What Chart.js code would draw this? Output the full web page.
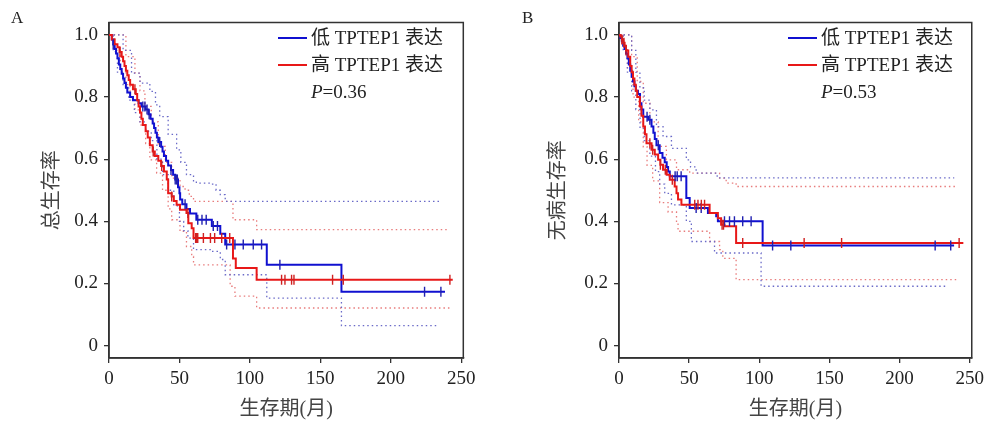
<!DOCTYPE html>
<html><head><meta charset="utf-8">
<script src="https://cdn.jsdelivr.net/npm/chart.js@4.4.0/dist/chart.umd.min.js"></script>
<style>
body{margin:0;background:#fff;width:989px;height:423px;overflow:hidden;position:relative;font-family:"Liberation Serif","Noto Sans CJK SC",serif;}
.wrap{position:absolute;top:0;height:423px;}
#wa{left:0;width:490px}
#wb{left:510px;width:479px}
.lbl{position:absolute;font-size:17px;color:#222;line-height:20px}
.leg{position:absolute;font-size:19px;color:#222;white-space:nowrap;line-height:20px}
.sw{position:absolute;height:2px;width:29px}
</style></head>
<body>
<div class="wrap" id="wa"><canvas id="ca"></canvas></div>
<div class="wrap" id="wb"><canvas id="cb"></canvas></div>
<div class="lbl" style="left:11px;top:8px">A</div>
<div class="lbl" style="left:522px;top:8px">B</div>

<div class="sw" style="left:278px;top:37px;background:#1010d0"></div>
<div class="leg" style="left:311px;top:28px">低 TPTEP1 表达</div>
<div class="sw" style="left:278px;top:64px;background:#e81818"></div>
<div class="leg" style="left:311px;top:55px">高 TPTEP1 表达</div>
<div class="leg" style="left:311px;top:82px"><i>P</i>=0.36</div>

<div class="sw" style="left:788px;top:37px;background:#1010d0"></div>
<div class="leg" style="left:821px;top:28px">低 TPTEP1 表达</div>
<div class="sw" style="left:788px;top:64px;background:#e81818"></div>
<div class="leg" style="left:821px;top:55px">高 TPTEP1 表达</div>
<div class="leg" style="left:821px;top:82px"><i>P</i>=0.53</div>

<script>
// ---------- axis ticks ----------
const xTicks = [0, 50, 100, 150, 200, 250];
const yTicks = [0, 0.2, 0.4, 0.6, 0.8, 1.0];
const yTickLabels = ['0', '0.2', '0.4', '0.6', '0.8', '1.0'];

// ---------- Panel A: overall survival ----------
const aLow = [[0,1],[2,0.985],[3,0.97],[4,0.955],[5,0.94],[6,0.925],[7,0.905],[8,0.89],[9,0.875],[10,0.86],[11,0.845],[12,0.83],[13,0.815],[15,0.8],[17,0.79],[21,0.78],[23,0.77],[26,0.76],[28,0.745],[29.5,0.73],[31,0.715],[32,0.7],[33,0.685],[34,0.67],[35,0.655],[37,0.64],[38,0.625],[39,0.61],[40.5,0.595],[42,0.58],[44,0.565],[45.5,0.55],[47,0.535],[49,0.51],[50,0.49],[50.5,0.47],[52,0.455],[55,0.44],[57.5,0.425],[62,0.405],[73,0.385],[79,0.36],[82.5,0.325],[112,0.26],[165,0.173],[238.5,0.173]];
const aHigh = [[0,1],[2,0.985],[4,0.97],[6,0.96],[7.5,0.945],[9,0.93],[10,0.915],[11,0.9],[12,0.885],[13,0.87],[14,0.855],[15,0.84],[17,0.825],[19,0.81],[20,0.79],[21,0.77],[22,0.75],[23,0.73],[24,0.71],[26,0.69],[27.5,0.67],[29,0.645],[31,0.625],[32.5,0.61],[35,0.595],[37,0.578],[39,0.56],[41,0.535],[42,0.49],[44.5,0.48],[46,0.465],[48,0.453],[50.4,0.437],[55,0.427],[56.3,0.394],[58.7,0.378],[60,0.346],[88,0.28],[90,0.25],[104.8,0.212],[244,0.212]];
const aLowCensor = [3,24,25.5,27,28.5,36,44,47,48,48.5,54,63,66,69,74,77,83.5,89.4,95.3,102.4,108.3,121.3,224,235.6];
const aHighCensor = [7.8,18.4,31.4,37.4,44.5,56,61.5,62,62.5,63,67,72,75,80,85.7,122.5,124.9,129.6,131.3,158.7,166.3,242];
const aLowUpper = [[0,1],[5,1],[10,0.95],[16,0.877],[22,0.845],[29,0.818],[33,0.775],[36,0.737],[42,0.68],[48,0.63],[51,0.59],[55,0.55],[60,0.528],[62,0.523],[73,0.52],[76,0.5],[79,0.486],[82.5,0.464],[235,0.464]];
const aLowLower = [[0,1],[3,0.946],[6,0.88],[10,0.834],[14,0.79],[18,0.75],[22,0.72],[26,0.69],[30,0.66],[34,0.6],[38,0.55],[42,0.5],[46,0.45],[50,0.4],[53,0.37],[56,0.346],[60,0.309],[73,0.303],[79,0.277],[82.5,0.228],[112,0.153],[165,0.064],[232.5,0.064]];
const aHighUpper = [[0,1],[7,1],[12,0.93],[18.4,0.877],[22,0.82],[25.5,0.77],[30,0.72],[35,0.641],[40,0.59],[44.5,0.539],[50.4,0.512],[54,0.5],[57,0.48],[60,0.464],[88,0.405],[104.8,0.373],[240.7,0.373]];
const aHighLower = [[0,1],[4,0.95],[8,0.88],[12,0.84],[15,0.8],[18.4,0.759],[22,0.71],[26,0.65],[29,0.598],[33.8,0.555],[38,0.5],[42,0.44],[44.5,0.405],[50.4,0.368],[55,0.319],[58.7,0.287],[60,0.26],[86,0.191],[89.4,0.159],[104.8,0.121],[242,0.121]];

// ---------- Panel B: disease-free survival ----------
const bLow = [[0,1],[1,0.99],[2,0.98],[3,0.965],[4,0.955],[5,0.94],[6,0.925],[7,0.905],[8,0.885],[9,0.865],[10,0.85],[11,0.835],[12,0.82],[13.5,0.81],[15,0.78],[16,0.76],[17.3,0.737],[20.8,0.727],[23.2,0.705],[24.5,0.685],[25.5,0.665],[26.7,0.645],[29,0.62],[31,0.605],[32.6,0.59],[34,0.575],[35,0.56],[36.2,0.545],[48,0.475],[50.4,0.443],[63.4,0.427],[69.3,0.416],[70.5,0.4],[102.4,0.322],[238.9,0.322]];
const bHigh = [[0,1],[1,0.995],[2,0.985],[3,0.975],[4,0.965],[5,0.95],[6.6,0.93],[8,0.9],[9,0.88],[10,0.86],[11,0.84],[12,0.82],[13,0.8],[14.9,0.77],[16,0.74],[17.3,0.705],[18.5,0.68],[19.6,0.651],[23.2,0.63],[25.5,0.615],[27.9,0.598],[29.5,0.582],[31.4,0.566],[34,0.55],[36.2,0.534],[39.7,0.512],[41,0.49],[42.1,0.47],[44.5,0.453],[64.6,0.427],[70.5,0.41],[72.8,0.389],[75.2,0.384],[83.5,0.33],[245.5,0.33]];
const bLowCensor = [20,22,28,40,41.5,44.3,55,58.6,75.2,78.8,82.3,88.2,94.2,109.5,122.5,225.4,236.5];
const bHighCensor = [2,3.5,5,22,24,29.5,33,38,54,56.3,58.7,61,73.5,74.5,88.2,132,158.7,242.5];
const bLowUpper = [[0,1],[6,1],[9,0.95],[12,0.88],[14.9,0.83],[18,0.79],[22,0.759],[26.7,0.705],[31.4,0.673],[37.4,0.635],[48,0.598],[51,0.575],[55,0.555],[70,0.54],[239,0.54]];
const bLowLower = [[0,1],[3,0.95],[6,0.88],[9,0.82],[12,0.76],[15,0.7],[18,0.66],[22,0.61],[26,0.56],[29,0.52],[32.6,0.49],[37.4,0.453],[48,0.4],[51.6,0.335],[68.1,0.298],[101.3,0.191],[233.5,0.191]];
const bHighUpper = [[0,1],[5,1],[9,0.93],[13,0.85],[17.3,0.78],[22,0.72],[27.9,0.641],[33.8,0.598],[41,0.566],[50.4,0.555],[71.7,0.539],[76.4,0.523],[83.5,0.512],[239.5,0.512]];
const bHighLower = [[0,1],[3,0.96],[6,0.89],[10,0.8],[14,0.72],[17.3,0.64],[20,0.58],[24,0.53],[29,0.46],[35,0.43],[41,0.394],[42.1,0.368],[64.6,0.335],[71.7,0.309],[74,0.281],[83.5,0.212],[242,0.212]];

// ---------- styling ----------
const BLUE = '#1010d0', RED = '#e81818';
const BLUE_CI = '#6a6ac8', RED_CI = '#e87c7c';
const BLUE_MK = '#2020b0', RED_MK = '#d02020';

function pts(arr){ return arr.map(([x,y]) => ({x, y})); }
function stepAt(curve, t){ let y = curve[0][1]; for (const [x,v] of curve){ if (x <= t) y = v; else break; } return y; }
function censorPts(curve, times){ return times.map(t => ({x: t, y: stepAt(curve, t)})); }

function curveDs(arr, color, order){ return {data: pts(arr), borderColor: color, borderWidth: 2, stepped: true, pointRadius: 0, fill: false, order}; }
function ciDs(arr, color){ return {data: pts(arr), borderColor: color, borderWidth: 1.3, borderDash: [1.5, 3], stepped: true, pointRadius: 0, fill: false, order: 10}; }
function censorDs(curve, times, color, order){ return {data: censorPts(curve, times), showLine: false, pointStyle: 'line', rotation: 90, pointRadius: 5, pointBorderWidth: 1.4, pointBorderColor: color, pointBackgroundColor: color, borderColor: color, order}; }

const framePlugin = { id: 'frame', beforeDatasetsDraw(c){ const {ctx, chartArea: a} = c; ctx.save(); ctx.strokeStyle = '#333'; ctx.lineWidth = 1.5; ctx.strokeRect(a.left, a.top, a.right - a.left, a.bottom - a.top); ctx.restore(); } };

function makeChart(id, low, high, lowC, highC, lowU, lowL, highU, highL, padRight, yTitle, yTitlePad){
  return new Chart(document.getElementById(id), {
    type: 'line',
    data: { datasets: [
      ciDs(lowU, BLUE_CI), ciDs(lowL, BLUE_CI), ciDs(highU, RED_CI), ciDs(highL, RED_CI),
      curveDs(low, BLUE, 4), curveDs(high, RED, 3),
      censorDs(low, lowC, BLUE_MK, 2), censorDs(high, highC, RED_MK, 1)
    ]},
    options: {
      responsive: true, maintainAspectRatio: false, animation: false,
      layout: { padding: { top: 22.5, right: padRight, left: 0, bottom: 0 } },
      plugins: { legend: { display: false }, tooltip: { enabled: false } },
      scales: {
        x: {
          type: 'linear', min: 0, max: 251.5,
          afterBuildTicks: s => { s.ticks = xTicks.map(v => ({value: v})); },
          afterFit: s => { s.height = 65; },
          ticks: { color: '#222', font: { family: 'Liberation Serif', size: 19 }, padding: 5, maxRotation: 0, autoSkip: false },
          grid: { drawOnChartArea: false, drawTicks: true, tickLength: 5, color: '#333', lineWidth: 1.3 },
          border: { display: true, color: '#333', width: 1.5 },
          title: { display: true, text: '生存期(月)', color: '#444', font: { family: 'Liberation Serif, "Noto Sans CJK SC"', size: 20 }, padding: { top: 0, bottom: 1 } }
        },
        y: {
          type: 'linear', min: -0.04, max: 1.04,
          afterBuildTicks: s => { s.ticks = yTicks.map(v => ({value: v})); },
          afterFit: s => { s.width = 109; },
          ticks: { color: '#222', font: { family: 'Liberation Serif', size: 19 }, padding: 6,
                   callback: (v) => { const i = yTicks.findIndex(t => Math.abs(t - v) < 1e-6); return i >= 0 ? yTickLabels[i] : ''; } },
          grid: { drawOnChartArea: false, drawTicks: true, tickLength: 5, color: '#333', lineWidth: 1.3 },
          border: { display: true, color: '#333', width: 1.5 },
          title: { display: true, text: yTitle, color: '#444', font: { family: '"Noto Sans CJK SC"', size: 20 }, padding: { top: yTitlePad, bottom: 0 } }
        }
      }
    },
    plugins: [framePlugin]
  });
}

makeChart('ca', aLow, aHigh, aLowCensor, aHighCensor, aLowUpper, aLowLower, aHighUpper, aHighLower, 26.7, '总生存率', 38);
makeChart('cb', bLow, bHigh, bLowCensor, bHighCensor, bLowUpper, bLowLower, bHighUpper, bHighLower, 15.7, '无病生存率', 34);
</script>
</body></html>
